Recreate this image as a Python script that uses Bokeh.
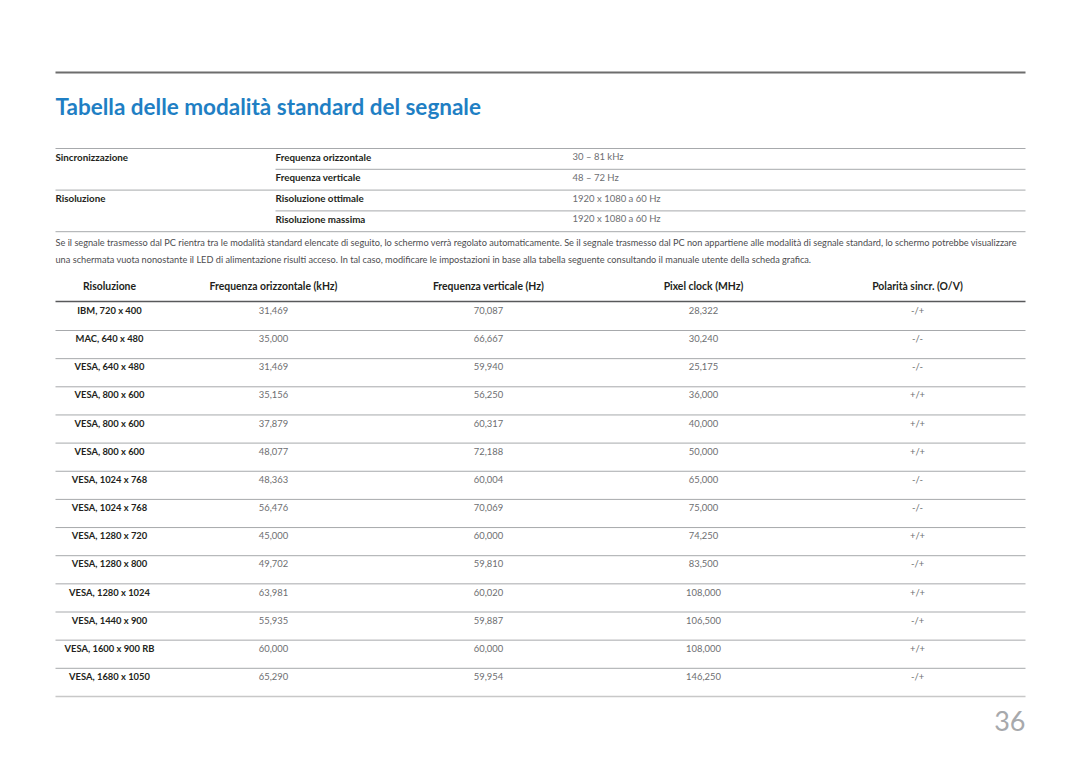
from bokeh.plotting import figure
from bokeh.models import Range1d, ColumnDataSource
from bokeh.core.properties import value
from bokeh.embed import file_html
from bokeh.resources import INLINE

# ---------------- data ----------------
title = "Tabella delle modalità standard del segnale"

spec_group = ["Sincronizzazione", "", "Risoluzione", ""]
spec_item = ["Frequenza orizzontale", "Frequenza verticale", "Risoluzione ottimale", "Risoluzione massima"]
spec_value = ["30 – 81 kHz", "48 – 72 Hz", "1920 x 1080 a 60 Hz", "1920 x 1080 a 60 Hz"]

paragraph = [
    "Se il segnale trasmesso dal PC rientra tra le modalità standard elencate di seguito, lo schermo verrà regolato automaticamente. Se il segnale trasmesso dal PC non appartiene alle modalità di segnale standard, lo schermo potrebbe visualizzare",
    "una schermata vuota nonostante il LED di alimentazione risulti acceso. In tal caso, modificare le impostazioni in base alla tabella seguente consultando il manuale utente della scheda grafica.",
]

headers = ["Risoluzione", "Frequenza orizzontale (kHz)", "Frequenza verticale (Hz)", "Pixel clock (MHz)", "Polarità sincr. (O/V)"]

resolutions = ["IBM, 720 x 400", "MAC, 640 x 480", "VESA, 640 x 480", "VESA, 800 x 600",
               "VESA, 800 x 600", "VESA, 800 x 600", "VESA, 1024 x 768", "VESA, 1024 x 768",
               "VESA, 1280 x 720", "VESA, 1280 x 800", "VESA, 1280 x 1024", "VESA, 1440 x 900",
               "VESA, 1600 x 900 RB", "VESA, 1680 x 1050"]
h_freq = ["31,469", "35,000", "31,469", "35,156", "37,879", "48,077", "48,363",
          "56,476", "45,000", "49,702", "63,981", "55,935", "60,000", "65,290"]
v_freq = ["70,087", "66,667", "59,940", "56,250", "60,317", "72,188", "60,004",
          "70,069", "60,000", "59,810", "60,020", "59,887", "60,000", "59,954"]
pixel_clock = ["28,322", "30,240", "25,175", "36,000", "40,000", "50,000", "65,000",
               "75,000", "74,250", "83,500", "108,000", "106,500", "108,000", "146,250"]
polarity = ["-/+", "-/-", "-/-", "+/+", "+/+", "+/+", "-/-",
            "-/-", "+/+", "-/+", "+/+", "-/+", "+/+", "-/+"]
page_number = "36"

# ---------------- layout constants ----------------
W, H = 1064, 747
X0, X1 = 55, 1025
FONT = value("Lato")
DARK = "#231f20"
GREY = "#6d6e71"
LINE = "#a7a9ac"

p = figure(width=W, height=H, x_range=Range1d(0, W), y_range=Range1d(H, 0),
           output_backend="svg", toolbar_location=None, min_border=0)
p.axis.visible = False
p.grid.visible = False
p.outline_line_color = None
p.background_fill_color = "white"

# top rule and title
p.segment(x0=[X0], y0=[72], x1=[X1], y1=[72], line_color="#6d6d6d", line_width=2)
p.text(x=[55], y=[106], text=[title], text_font=FONT, text_font_style="bold",
       text_font_size="22.5px", text_color="#1f7fc4", text_baseline="middle")

# spec table
spec_top, spec_step = 148, 20.8
spec_y = [spec_top + 8 + i * spec_step for i in range(len(spec_item))]
line_y = [spec_top + i * spec_step for i in range(len(spec_item) + 1)]
line_x0 = [X0 if (i == 0 or i == len(spec_item) or spec_group[i] != "") else 275
           for i in range(len(spec_item) + 1)]
p.segment(x0=line_x0, y0=line_y, x1=[X1] * len(line_y), y1=line_y, line_color=LINE, line_width=1)
p.text(x=[55] * 4, y=spec_y, text=spec_group, text_font=FONT, text_font_style="bold",
       text_font_size="9.8px", text_color=DARK, text_baseline="middle")
p.text(x=[275] * 4, y=spec_y, text=spec_item, text_font=FONT, text_font_style="bold",
       text_font_size="9.8px", text_color=DARK, text_baseline="middle")
p.text(x=[572] * 4, y=spec_y, text=spec_value, text_font=FONT,
       text_font_size="9.5px", text_color=GREY, text_baseline="middle")

# paragraph
p.text(x=[55, 55], y=[242, 259], text=paragraph, text_font=FONT,
       text_font_size="9.2px", text_color="#4d4d4f", text_baseline="middle")

# main table
col_x = [109, 273, 488, 703, 917]
p.text(x=col_x, y=[285] * 5, text=headers, text_font=FONT, text_font_style="bold",
       text_font_size="10.4px", text_color=DARK, text_align="center", text_baseline="middle")
p.segment(x0=[X0], y0=[301], x1=[X1], y1=[301], line_color="#58595b", line_width=1.5)

n = len(resolutions)
row_step = 28.15
row_y = [310 + i * row_step for i in range(n)]
sep_y = [330 + i * row_step for i in range(n)]
sep_col = [LINE] * (n - 1) + ["#c8c8c8"]
sep_w = [1] * (n - 1) + [1.5]
p.segment(x0=[X0] * n, y0=sep_y, x1=[X1] * n, y1=sep_y, line_color=sep_col, line_width=sep_w)

p.text(x=[col_x[0]] * n, y=row_y, text=resolutions, text_font=FONT, text_font_style="bold",
       text_font_size="9.4px", text_color=DARK, text_align="center", text_baseline="middle")
for cx, col in zip(col_x[1:], [h_freq, v_freq, pixel_clock, polarity]):
    src = ColumnDataSource(dict(x=[cx] * n, y=row_y, t=col))
    p.text(x="x", y="y", text="t", source=src, text_font=FONT,
           text_font_size="9.4px", text_color=GREY, text_align="center", text_baseline="middle")

# page number
p.text(x=[1025], y=[720], text=[page_number], text_font=FONT, text_font_size="27px",
       text_color="#a7a9ac", text_align="right", text_baseline="middle")

open("out.html", "w").write(file_html(p, INLINE))
